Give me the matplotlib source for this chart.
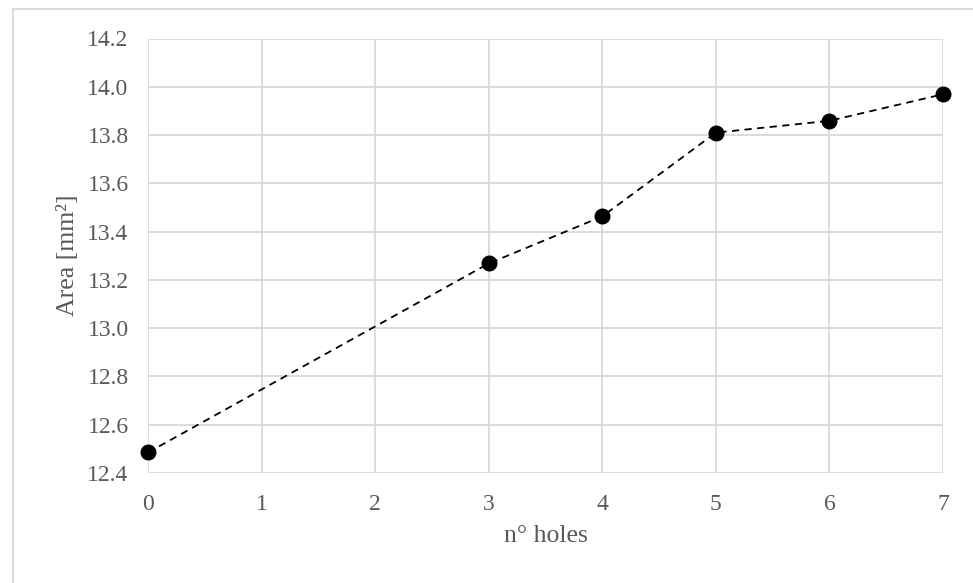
import matplotlib.pyplot as plt
from matplotlib.lines import Line2D

# Datos
n_holes = [0, 3, 4, 5, 6, 7]
area = [12.485, 13.268, 13.463, 13.81, 13.859, 13.969]
y_ticks = [12.4, 12.6, 12.8, 13.0, 13.2, 13.4, 13.6, 13.8, 14.0, 14.2]
x_ticks = [0, 1, 2, 3, 4, 5, 6, 7]

plt.rcParams['font.family'] = ['Liberation Serif', 'DejaVu Serif']
gris = '#595959'

fig = plt.figure(figsize=(9.73, 5.83), dpi=100)
ax = fig.add_axes([148 / 973, 1 - 473 / 583, (943 - 148) / 973, (473 - 38.5) / 583])

ax.plot(n_holes, area, linestyle=(0, (4, 3)), color='black', linewidth=1.3,
        marker='o', markersize=10.5, markerfacecolor='black', zorder=3, clip_on=False)

ax.set_xlim(0, 7)
ax.set_ylim(12.4, 14.2)
ax.set_xticks(x_ticks)
ax.set_yticks(y_ticks)
ax.set_yticklabels([f"{v:.1f}" for v in y_ticks])
ax.grid(True, color='#d9d9d9', linewidth=1.3)
ax.set_axisbelow(True)
for s in ax.spines.values():
    s.set_visible(False)
ax.tick_params(length=0, labelsize=17, labelcolor=gris)
ax.tick_params(axis='y', pad=14)
ax.tick_params(axis='x', pad=15)

ax.set_xlabel("n° holes", fontsize=18.5, color=gris, labelpad=7)
ax.set_ylabel("Area [mm²]", fontsize=18.5, color=gris, labelpad=6)

# Borde exterior del gráfico
fig.add_artist(Line2D([13 / 973, 13 / 973], [0, 1 - 9 / 583], color='#d9d9d9', linewidth=1.3))
fig.add_artist(Line2D([13 / 973, 1], [1 - 9 / 583, 1 - 9 / 583], color='#d9d9d9', linewidth=1.3))

plt.savefig('out.png', dpi=100)
